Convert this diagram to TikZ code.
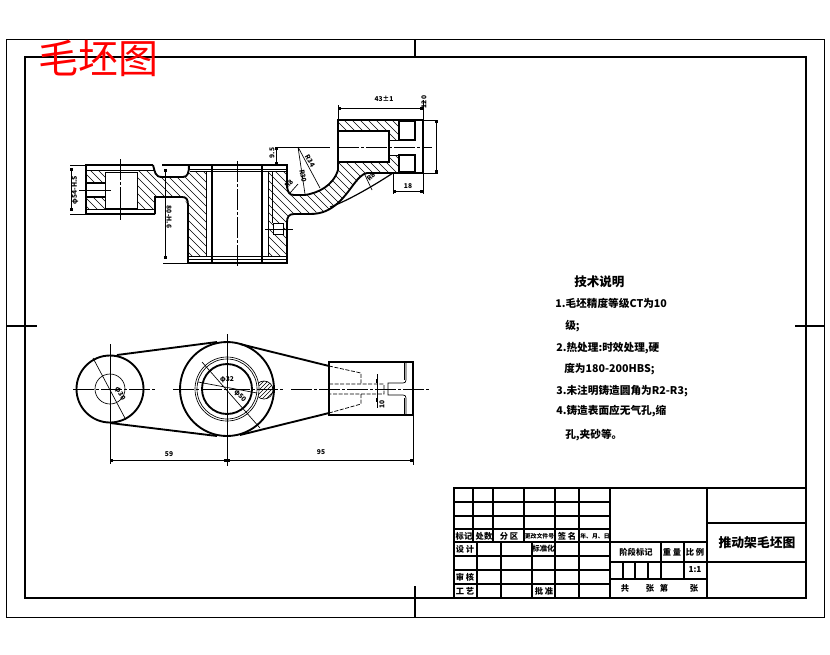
\documentclass[tikz,border=0pt]{standalone}
\usepackage{fontspec}
\usetikzlibrary{arrows.meta}
\setmainfont{Liberation Sans}
\newfontfamily\cjk{Noto Sans CJK SC}
\tikzset{
  thk/.style={line width=1.4pt,line join=miter},
  med/.style={line width=0.9pt},
  thn/.style={line width=0.5pt},
  hat/.style={line width=0.4pt},
  dimn/.style={line width=0.5pt,{Rectangle[length=2.2pt,width=2.2pt]}-{Rectangle[length=2.2pt,width=2.2pt]}},
  ctr/.style={line width=0.5pt,dash pattern=on 16pt off 1.5pt on 2pt off 1.5pt},
  hid/.style={line width=0.55pt,dash pattern=on 3pt off 1.2pt},
  lbl/.style={font=\cjk\bfseries\fontsize{5}{6}\selectfont,inner sep=0pt},
  blk/.style={font=\cjk\bfseries\fontsize{6.2}{7}\selectfont,inner sep=0pt},
  blks/.style={font=\cjk\bfseries\fontsize{4.4}{5}\selectfont,inner sep=0pt},
  note/.style={font=\cjk\bfseries\fontsize{8}{9}\selectfont,inner sep=0pt,anchor=west},
}
\newcommand{\hatchreg}[1]{\begin{scope}\clip #1;
  \foreach \k in {-100,-92,...,500}{\draw[hat] (\k,100)--({\k+180},280);}\end{scope}}
\begin{document}
\begin{tikzpicture}[x=0.75pt,y=-0.75pt]
\useasboundingbox (0,0) rectangle (830,654);
% frames
\draw[line width=0.7pt] (6,39) rectangle (824,617);
\draw[thk,line width=1.6pt] (25,57) rectangle (806,598);
\draw[thk] (415,39)--(415,57) (415,586)--(415,617) (6,326)--(37,326) (795,326)--(824,326);
% hatching: upper view
\hatchreg{(87,171)--(105,171)--(105,183)--(87,183)--cycle}
\hatchreg{(87,197)--(105,197)--(105,208)--(87,208)--cycle}
\hatchreg{(137,171)--(154,171)--(160,177)--(185,177)--(189,171)--(206,171)--(206,256)--(188,256)--(188,205)--(183,197)--(155,197)--(155,209)--(137,209)--cycle}
\hatchreg{(268,171)--(287,171)--(287,187)--(292,195)--(305,195)--(320,190)--(333,182)--(338,170)--(338,162)--(389,162)--(389,155)--(399,155)--(399,172)--(367,173)--(360,178)--(350,190)--(338,203)--(327,210)--(310,214)--(290,214)--(286,218)--(287,256)--(268,256)--cycle}
\hatchreg{(338,121)--(399,121)--(399,140)--(389,140)--(389,131)--(338,131)--cycle}
% left boss
\draw[thk] (155,214)--(86,214)--(86,165)--(153,165);
\draw[thk] (153,165) .. controls (155,172) and (155,177) .. (162,177)--(183,177) .. controls (188,177) and (189,172) .. (189,165);
\draw[med] (162,165)--(189,165);
\draw[thk] (189,165)--(287,165)--(287,187) .. controls (288,192) and (289,195) .. (294,195)--(305,195) .. controls (318,193) and (333,186) .. (338,170)--(338,120)--(423,120)--(423,173)--(367,173) .. controls (357,175) and (352,190) .. (338,203) .. controls (330,210) and (322,214) .. (310,214)--(294,214) .. controls (289,214) and (287,217) .. (287,222)--(287,263)--(188,263)--(188,205) .. controls (188,199) and (186,197) .. (182,197)--(155,197)--(155,214);
\draw[thk] (212,165)--(212,263) (262,165)--(262,263);
\draw[thn] (87,170)--(154,170) (87,209)--(155,209);
\draw[thn] (105,172) rectangle (137,208);
\draw[thk] (86,183)--(105,183) (86,197)--(105,197);
\draw[thn] (190,171)--(287,171) (188,256)--(287,256) (206,171)--(206,256) (268,171)--(268,256) (272,171)--(272,223);
\draw[thn] (189,169)--(287,169) (189,259)--(287,259);
\draw[thn,fill=white] (273,223) rectangle (283,234);
\draw[ctr] (120.5,159)--(120.5,220) (237.5,161)--(237.5,268);
\draw[thn] (79,190)--(111,190) (265,229)--(293,229);
% right arm section
\draw[med] (330,207) .. controls (345,202) and (370,188) .. (393,173);
\draw[med] (338,131)--(389,131)--(389,162)--(338,162);
\draw[med] (399,121) rectangle (415,140) (399,155) rectangle (415,172);
\draw[thn] (389,140)--(399,140) (389,155)--(399,155);
\draw[thn] (275,147)--(330,147);
\draw[ctr] (338,147)--(432,147);
% upper dimensions
\draw[thn] (338,105)--(338,120) (423,100)--(423,120);
\draw[dimn] (338,108)--(423,108);
\node[lbl] (d43) at (384,99) {43±1};
\node[lbl,rotate=90] (d120) at (424,102) {120};
\draw[thn] (423,120)--(438,120) (423,173)--(438,173);
\draw[dimn] (436,120)--(436,173);
\draw[thn] (393,173)--(393,194) (423,173)--(423,194);
\draw[dimn] (393,191)--(423,191);
\node[lbl] (d18) at (408,186) {18};
\draw[thn] (260,165)--(277,165);
\draw[dimn] (276,147)--(276,165);
\node[lbl,rotate=90] (d95) at (272,153) {9.5};
\draw[thn] (298,147)--(320,188) (298,147)--(305,194) (290,193)--(298,184) (364,173)--(372,190);
\node[lbl,rotate=-60] (r34) at (310,161) {R34};
\node[lbl,rotate=-80] (r30) at (303,176) {R30};
\node[lbl,rotate=45] (r8a) at (289,184) {R8};
\node[lbl,rotate=45] (r8b) at (371,177) {R8};
\draw[thn] (70,165)--(86,165) (70,214)--(86,214);
\draw[dimn] (71,168)--(71,211);
\node[lbl,rotate=90] (d54) at (75,190) {φ54-H.S};
\draw[thn] (165,165)--(189,165) (163,263)--(188,263);
\draw[dimn] (165.5,169)--(165.5,259);
\node[lbl,rotate=-90] (d86) at (169,217) {80-H.6};
% lower view
\begin{scope}\clip (264,390) circle (9);
 \foreach \k in {245,249,...,290}{\draw[hat] (\k,380)--({\k-20},400);}\end{scope}
\draw[thn] (264,390) circle (9);
\fill[white] (227,389) circle (32);
\draw[thk] (110,389) circle (33.5);
\draw[thk] (227,389) circle (47);
\draw[thn] (110,389) circle (15);
\draw[thk] (227,389) circle (25);
\draw[thn] (227,389) circle (30) (227,389) circle (32);
\draw[thk] (117,355)--(217,342) (110,423)--(217,436) (240,344)--(329,366) (240,435)--(329,413);
\draw[thk] (329,362) rectangle (413,415);
\draw[thn] (406,362)--(406,380) .. controls (406,382) and (405,383) .. (403,383)--(388,383)--(388,395)--(403,395) .. controls (405,395) and (406,396) .. (406,398)--(406,415);
\draw[thn] (404,362)--(404,380) (404,398)--(404,415);
\draw[hid] (329,366)--(361,373)--(361,383) (329,413)--(361,404)--(361,394) (329,384)--(384,384)--(384,394)--(329,394);
\draw[ctr] (291,389)--(429,389);
\draw[ctr] (73,389)--(156,389) (173,389)--(284,389);
\draw[thn] (110,344)--(110,464) (227,334)--(227,466) (413,415)--(413,465) (377,374)--(377,408);
\draw[thk] (377,379)--(377,383) (377,398)--(377,402);
\draw[dimn] (110,460)--(227,460);
\draw[dimn] (227,460)--(413,460);
\node[lbl] (d59) at (169,454) {59};
\node[lbl] (d95b) at (321,452) {95};
\draw[thn] (93,358)--(126,420) (202,362)--(260,428) (198,382)--(257,393);
\node[lbl,rotate=-60] (dl) at (120,394) {φ30};
\node[lbl] (dr) at (227,380) {φ32};
\node[lbl,rotate=-45] (dr2) at (240,396) {φ50};
\node[lbl,rotate=90] (d10) at (382,404) {10};
% title block
\draw[thk] (454,598)--(454,488)--(806,488) (610,488)--(610,598) (707,488)--(707,598);
\draw[thk] (454,502)--(610,502) (454,516)--(610,516) (454,529)--(610,529) (454,542)--(707,542) (454,556)--(610,556) (454,570)--(610,570) (454,584)--(610,584);
\draw[thk] (473,488)--(473,542) (493,488)--(493,542) (524,488)--(524,542) (555,488)--(555,598) (579,488)--(579,598);
\draw[thk] (477,542)--(477,598) (501,542)--(501,598) (532,542)--(532,598);
\draw[thk] (610,562)--(806,562) (610,579)--(707,579) (707,523)--(806,523) (661,542)--(661,579) (684,542)--(684,579);
\draw[med] (623,562)--(623,579) (635,562)--(635,579) (648,562)--(648,579);
\foreach \nm/\x/\y/\t in {a/464/536/标记,b/484/536/处数,c/509/536/分 区,e/567/536/签 名,g/465/549/设 计,i/465/577/审 核,j/465/591/工 艺,k/544/591/批 准,l/636/552/阶段标记,m/672/552/重 量,n/695/552/比 例,o/625/588/共,p/650/588/张,q/664/588/第,r/694/588/张}
  {\node[blk] (tb\nm) at (\x,\y) {\t};}
\node[blks] (tbd) at (539.5,536) {更改文件号};
\node[blks] (tbf) at (595,536) {年、月、日};
\node[blk,font=\cjk\bfseries\fontsize{5.6}{6}\selectfont] (tbh) at (543.5,549) {标准化};
\node[blk] (tbs) at (695,570) {1:1};
\node[font=\cjk\bfseries\fontsize{9.6}{11}\selectfont,inner sep=0pt] (ttl) at (757,543) {推动架毛坯图};
% notes
\node[note,font=\cjk\bfseries\fontsize{9.4}{11}\selectfont] (n0) at (574,282) {技术说明};
\node[note] (n1) at (555,303) {1.毛坯精度等级CT为10};
\node[note] (n2) at (565,326) {级;};
\node[note] (n3) at (556,348) {2.热处理:时效处理,硬};
\node[note] (n4) at (564,369) {度为180-200HBS;};
\node[note] (n5) at (556,391) {3.未注明铸造圆角为R2-R3;};
\node[note] (n6) at (556,411) {4.铸造表面应无气孔,缩};
\node[note] (n7) at (565,435) {孔,夹砂等。};
% stamp
\node[text=red,font=\cjk\fontsize{30}{31}\selectfont,inner sep=0pt] (stamp) at (98,58) {毛坯图};
\end{tikzpicture}
\end{document}
